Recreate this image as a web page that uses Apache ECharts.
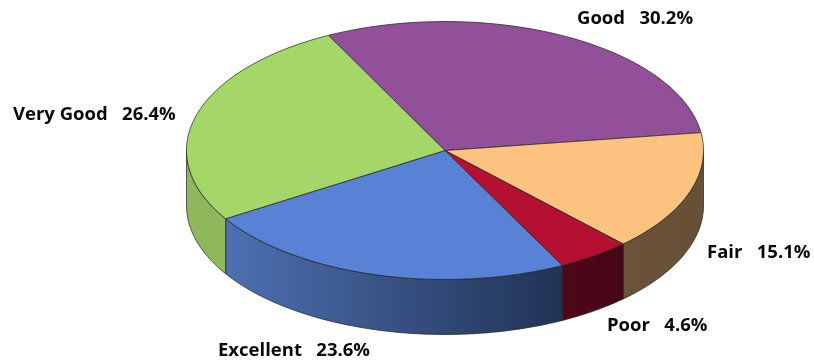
<!DOCTYPE html>
<html><head><meta charset="utf-8">
<style>html,body{margin:0;padding:0;background:#fff}#c{width:814px;height:360px}</style>
<script src="https://cdn.jsdelivr.net/npm/echarts@6/dist/echarts.min.js"></script>
</head><body><div id="c"></div>
<script>
const categories = ['Good', 'Fair', 'Poor', 'Excellent', 'Very Good'];
const shares = [30.2, 15.1, 4.6, 23.6, 26.4];
const tickLabels = ['30.2%', '15.1%', '4.6%', '23.6%', '26.4%'];

const topColors = ['#924f9a', '#fcc27f', '#b31032', '#5882d6', '#a5d768'];
const sideColors = [['#5d3263','#5d3263'], ['#6b5338','#665036'], ['#4e0718','#480616'], ['#4d70b2','#213355'], ['#8fb75b','#8fb75b']];
const geo = {cx: 445, cy: 150.5, rx: 258.5, ry: 129, depth: 55, start: -116.8};
const labelPos = [[577,19],[707,253],[607,326],[218,351],[13,115]];

const total = shares.reduce((a,b)=>a+b,0);
let acc = geo.start;
const spans = shares.map(v => { const s = acc; acc += v/total*360; return [s, acc]; });
const pt = (t, dy) => { const r = t*Math.PI/180; return [geo.cx + geo.rx*Math.cos(r), geo.cy + geo.ry*Math.sin(r) + (dy||0)]; };
function arc(a, b, dy){ const n = Math.max(2, Math.ceil(Math.abs(b-a)/1.5)); const out=[]; for(let i=0;i<=n;i++) out.push(pt(a+(b-a)*i/n, dy)); return out; }
const edge = {stroke:'rgba(35,30,30,0.7)', lineWidth:1};

const chart = echarts.init(document.getElementById('c'), null, {renderer:'canvas'});
const rows = categories.map((c,i)=>({name:c, value:shares[i]}));
chart.setOption({
  animation:false, backgroundColor:'#fff',
  series:[
    {type:'custom', coordinateSystem:'none', silent:true, z:1, data:rows,
     renderItem(p){
       const i=p.dataIndex; const [s,e]=spans[i];
       const ranges=[[s,e],[s+360,e+360],[s-360,e-360]];
       const children=[];
       ranges.forEach(([a,b])=>{
         const lo=Math.max(a,0), hi=Math.min(b,180);
         if(hi<=lo) return;
         children.push({type:'polygon',
           shape:{points:arc(lo,hi,0).concat(arc(hi,lo,geo.depth))},
           style:Object.assign({fill:new echarts.graphic.LinearGradient(0,0,1,0,[{offset:0,color:sideColors[i][0]},{offset:1,color:sideColors[i][1]}])},edge)});
       });
       return {type:'group',children};
     }},
    {type:'custom', coordinateSystem:'none', silent:true, z:2, data:rows,
     renderItem(p){
       const i=p.dataIndex; const [s,e]=spans[i];
       return {type:'polygon', shape:{points:[[geo.cx,geo.cy]].concat(arc(s,e,0))},
         style:Object.assign({fill:topColors[i]},edge)};
     }},
    {type:'custom', coordinateSystem:'none', silent:true, z:3, data:rows,
     renderItem(p){
       const i=p.dataIndex;
       return {type:'text', x:labelPos[i][0], y:labelPos[i][1],
         style:{text:categories[i]+'   '+tickLabels[i], fill:'#0a0a0a', font:'bold 18.5px "Open Sans"', textAlign:'left', textVerticalAlign:'middle'}};
     }}
  ]
});
</script></body></html>
